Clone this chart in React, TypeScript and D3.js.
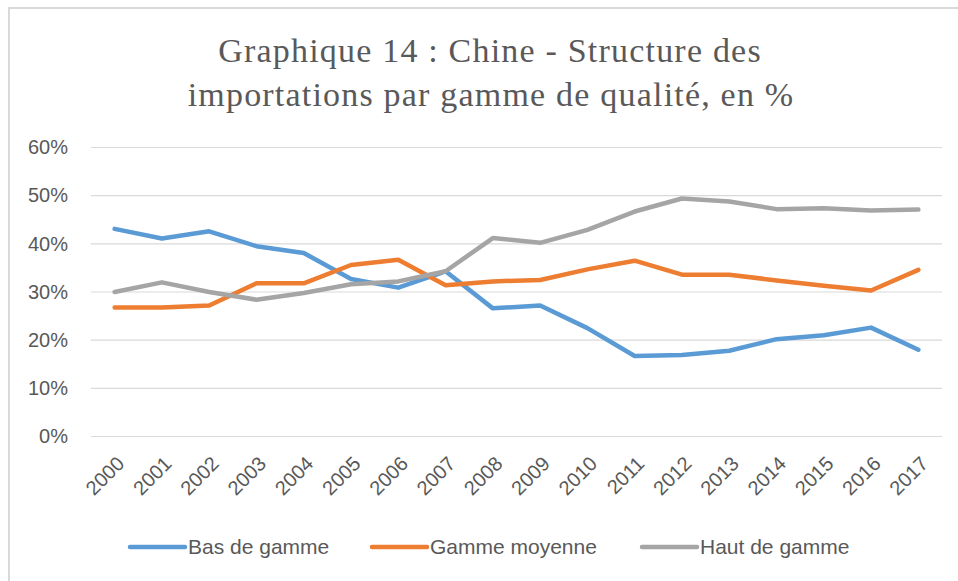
import React, { useRef, useEffect } from 'react';
import * as d3 from 'd3';

const years = ['2000', '2001', '2002', '2003', '2004', '2005', '2006', '2007', '2008', '2009', '2010', '2011', '2012', '2013', '2014', '2015', '2016', '2017'];
const basDeGamme = [43.0, 41.0, 42.5, 39.4, 38.0, 32.6, 30.8, 34.2, 26.5, 27.1, 22.4, 16.6, 16.8, 17.7, 20.1, 20.9, 22.5, 17.9];
const gammeMoyenne = [26.7, 26.7, 27.1, 31.7, 31.7, 35.5, 36.6, 31.3, 32.1, 32.4, 34.6, 36.4, 33.5, 33.5, 32.3, 31.2, 30.2, 34.5];
const hautDeGamme = [29.9, 31.9, 29.9, 28.3, 29.7, 31.5, 32.1, 34.2, 41.1, 40.1, 42.8, 46.6, 49.3, 48.7, 47.1, 47.3, 46.8, 47.0];
const seriesNames = ['Bas de gamme', 'Gamme moyenne', 'Haut de gamme'];
const colors = ['#5b9bd5', '#ed7d31', '#a5a5a5'];
const yTicks = [0, 10, 20, 30, 40, 50, 60];

const App = () => {
    const ref = useRef<SVGSVGElement>(null);

    useEffect(() => {
        const svg = d3.select(ref.current);
        svg.selectAll('*').remove();

        const width = 958;
        const height = 581;
        const margin = { top: 147, right: 16, bottom: 145, left: 91 };
        const textColor = '#595959';
        const sans = '"Liberation Sans", Arial, sans-serif';

        // chart frame (only top and left edges visible)
        svg.append('line').attr('x1', 8).attr('x2', width).attr('y1', 8).attr('y2', 8)
            .attr('stroke', '#d9d9d9').attr('stroke-width', 2);
        svg.append('line').attr('x1', 9).attr('x2', 9).attr('y1', 8).attr('y2', height)
            .attr('stroke', '#d9d9d9').attr('stroke-width', 2);

        // title
        const title = svg.append('text').attr('text-anchor', 'middle').attr('fill', textColor)
            .attr('font-family', '"Liberation Serif", "Times New Roman", serif')
            .attr('font-size', 34).attr('letter-spacing', 1.2);
        title.append('tspan').attr('x', 490).attr('y', 62).text('Graphique 14 : Chine - Structure des');
        title.append('tspan').attr('x', 491).attr('y', 106).text('importations par gamme de qualité, en %');

        const xScale = d3.scaleBand().domain(years).range([margin.left, width - margin.right]);
        const yScale = d3.scaleLinear().domain([0, 60]).range([height - margin.bottom, margin.top]);
        const xPos = (i: number) => (xScale(years[i]) as number) + xScale.bandwidth() / 2;

        // gridlines + y labels
        const yAxis = svg.append('g')
            .attr('transform', `translate(${margin.left},0)`)
            .call(d3.axisLeft(yScale).tickValues(yTicks).tickSize(-(width - margin.left - margin.right)).tickPadding(23).tickFormat(d => `${d}%`));
        yAxis.select('.domain').remove();
        yAxis.selectAll('.tick line').attr('stroke', '#d9d9d9').attr('stroke-width', 1.2);
        yAxis.selectAll('.tick text').attr('fill', textColor).attr('font-family', sans).attr('font-size', 20).attr('dy', '0.34em');

        // x labels rotated
        const xAxis = svg.append('g')
            .attr('transform', `translate(0,${height - margin.bottom})`)
            .call(d3.axisBottom(xScale).tickSize(0).tickPadding(0));
        xAxis.select('.domain').remove();
        xAxis.selectAll('.tick text')
            .attr('fill', textColor).attr('font-family', sans).attr('font-size', 20)
            .attr('text-anchor', 'end')
            .attr('transform', 'translate(6,24) rotate(-45)')
            .attr('dy', '0.35em');

        // lines
        const allSeries = [basDeGamme, gammeMoyenne, hautDeGamme];
        const line = d3.line<number>().x((_, i) => xPos(i)).y(d => yScale(d));
        allSeries.forEach((s, k) => {
            svg.append('path').datum(s)
                .attr('fill', 'none').attr('stroke', colors[k]).attr('stroke-width', 4.5)
                .attr('stroke-linejoin', 'round').attr('stroke-linecap', 'round')
                .attr('d', line);
        });

        // legend
        const legendX = [130, 372, 642];
        const legendY = 547;
        seriesNames.forEach((name, k) => {
            const g = svg.append('g').attr('transform', `translate(${legendX[k]},${legendY})`);
            g.append('line').attr('x1', 0).attr('x2', 55).attr('y1', 0).attr('y2', 0)
                .attr('stroke', colors[k]).attr('stroke-width', 4.5).attr('stroke-linecap', 'round');
            g.append('text').attr('x', 58).attr('y', 0).attr('dy', '0.35em')
                .attr('fill', textColor).attr('font-family', sans).attr('font-size', 21)
                .text(name);
        });
    }, []);

    return <svg ref={ref} width={958} height={581} style={{ position: 'absolute', left: 0, top: 0, background: '#fff' }}></svg>;
};

export default App;
